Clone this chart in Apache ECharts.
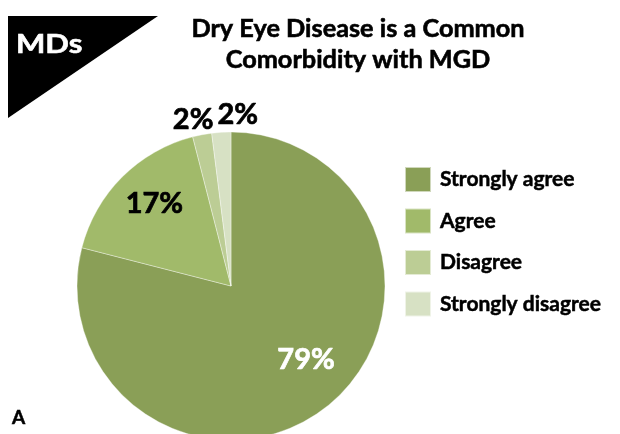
<!DOCTYPE html>
<html>
<head>
<meta charset="utf-8">
<script src="https://cdn.jsdelivr.net/npm/echarts@6/dist/echarts.min.js"></script>
<style>
  html, body { margin: 0; padding: 0; background: #fff; }
  #chart { width: 620px; height: 434px; }
</style>
</head>
<body>
<div id="chart"></div>
<script>
// Survey responses (percent of MDs)
const categories = ['Strongly agree', 'Agree', 'Disagree', 'Strongly disagree'];
const values = [79, 17, 2, 2];
const colors = ['#8a9f57', '#a1ba6a', '#bccd95', '#d7e1c4'];

const FONT = 'Lato, "Open Sans", sans-serif';

// per-slice nudges for the percentage labels
const labelShift = [
  { dx: 26, dy: 10 },
  { dx: -20, dy: -26 },
  { dx: 17, dy: -11 },
  { dx: 42, dy: -14 }
];

const chart = echarts.init(document.getElementById('chart'), null, { renderer: 'canvas' });

const data = categories.map((name, i) => ({
  name,
  value: values[i],
  itemStyle: { color: colors[i] },
  label: i === 0
    ? { position: 'inside', color: '#fff', textBorderColor: '#fff' }
    : i === 1
      ? { position: 'inside', color: '#000', textBorderColor: '#000' }
      : { position: 'outside', color: '#000', textBorderColor: '#000' }
}));

chart.setOption({
  animation: false,
  title: {
    text: 'Dry Eye Disease is a Common\nComorbidity with MGD',
    left: 353,
    top: 8,
    textAlign: 'center',
    textStyle: {
      fontFamily: FONT,
      fontWeight: 'bold',
      fontSize: 25.3,
      lineHeight: 31,
      color: '#000',
      textBorderColor: '#000',
      textBorderWidth: 0.6
    }
  },
  legend: {
    orient: 'vertical',
    left: 399,
    top: 161,
    icon: 'rect',
    itemWidth: 26,
    itemHeight: 25,
    itemGap: 14.5,
    selectedMode: false,
    data: categories,
    textStyle: {
      fontFamily: FONT,
      fontWeight: 'bold',
      fontSize: 21,
      color: '#000',
      textBorderColor: '#000',
      textBorderWidth: 0.5,
      padding: [0, 0, 0, 4]
    }
  },
  graphic: [
    {
      type: 'polygon',
      shape: { points: [[8, 16], [158, 16], [8, 118]] },
      style: { fill: '#000' }
    },
    {
      type: 'text',
      x: 16,
      y: 31,
      scaleX: 1.15,
      style: {
        text: 'MDs',
        fill: '#fff',
        stroke: '#fff',
        lineWidth: 0.6,
        font: 'bold 27px ' + FONT
      }
    },
    {
      type: 'text',
      x: 12,
      y: 408,
      style: {
        text: 'A',
        fill: '#000',
        stroke: '#000',
        lineWidth: 0.5,
        font: 'bold 19px ' + FONT
      }
    }
  ],
  series: [{
    type: 'pie',
    center: [231, 286],
    radius: 154,
    startAngle: 90,
    clockwise: true,
    avoidLabelOverlap: false,
    itemStyle: { borderColor: 'rgba(255,255,255,0.6)', borderWidth: 0.6 },
    label: {
      show: true,
      formatter: '{d}%',
      fontFamily: FONT,
      fontWeight: 'bold',
      fontSize: 29,
      textBorderWidth: 0.7
    },
    labelLine: { show: false, length: 4, length2: 0 },
    labelLayout: function (p) {
      return labelShift[p.dataIndex];
    },
    emphasis: { disabled: true },
    data
  }]
});
</script>
</body>
</html>
